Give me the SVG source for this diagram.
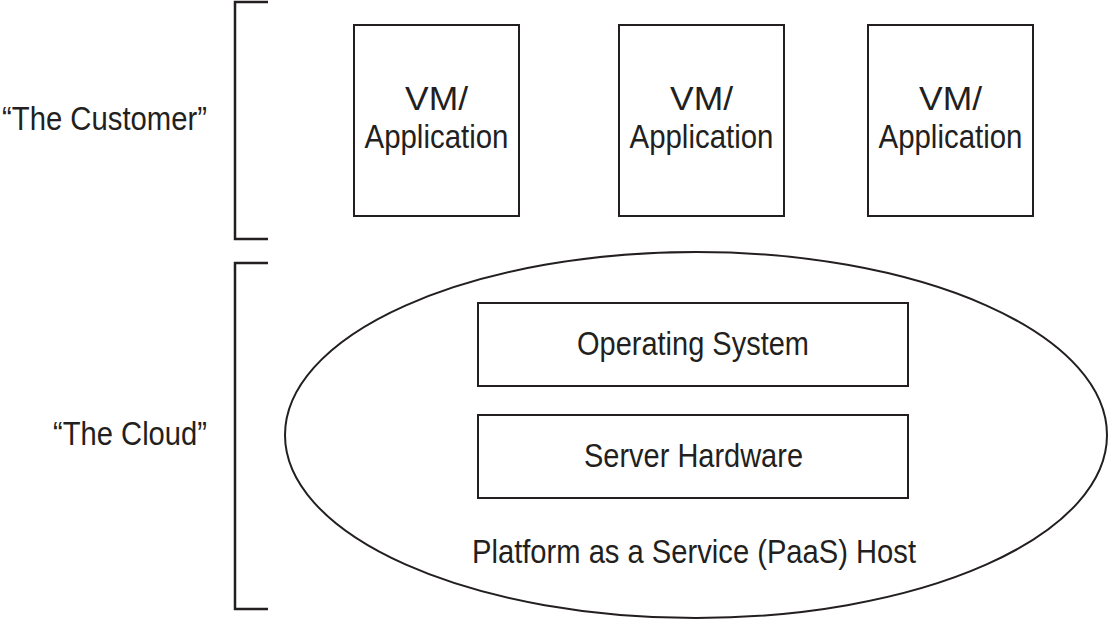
<svg xmlns="http://www.w3.org/2000/svg" width="1108" height="621" viewBox="0 0 1108 621">
<style>
.ln{fill:none;stroke:#231f20;stroke-width:2}
.br{fill:none;stroke:#231f20;stroke-width:2.5}
.t{font-family:"Liberation Sans",Arial,sans-serif;font-size:33px;fill:#231f20;text-anchor:middle}
.tl{font-family:"Liberation Sans",Arial,sans-serif;font-size:33px;fill:#231f20}
</style>
<rect width="1108" height="621" fill="#ffffff"/>
<g id="customer-label">
<path class="br" d="M268,2 H235 V239 H268"/>
<text class="tl" x="2" y="130" textLength="205" lengthAdjust="spacingAndGlyphs">“The Customer”</text>
</g>
<g id="cloud-label">
<path class="br" d="M268,263 H235 V609 H268"/>
<text class="tl" x="53" y="445" textLength="154" lengthAdjust="spacingAndGlyphs">“The Cloud”</text>
</g>
<g id="vm1">
<rect class="ln" x="354" y="25" width="165" height="191"/>
<text class="t" x="436.5" y="110" textLength="63" lengthAdjust="spacingAndGlyphs">VM/</text>
<text class="t" x="436.5" y="148" textLength="144" lengthAdjust="spacingAndGlyphs">Application</text>
</g>
<g id="vm2">
<rect class="ln" x="619" y="25" width="165" height="191"/>
<text class="t" x="701.5" y="110" textLength="63" lengthAdjust="spacingAndGlyphs">VM/</text>
<text class="t" x="701.5" y="148" textLength="144" lengthAdjust="spacingAndGlyphs">Application</text>
</g>
<g id="vm3">
<rect class="ln" x="868" y="25" width="165" height="191"/>
<text class="t" x="950.5" y="110" textLength="63" lengthAdjust="spacingAndGlyphs">VM/</text>
<text class="t" x="950.5" y="148" textLength="144" lengthAdjust="spacingAndGlyphs">Application</text>
</g>
<g id="paas-host">
<ellipse class="ln" cx="696" cy="435" rx="411" ry="183"/>
<text class="t" x="694" y="563" textLength="444" lengthAdjust="spacingAndGlyphs">Platform as a Service (PaaS) Host</text>
</g>
<g id="os">
<rect class="ln" x="478" y="303" width="430" height="83"/>
<text class="t" x="693" y="355" textLength="232" lengthAdjust="spacingAndGlyphs">Operating System</text>
</g>
<g id="hw">
<rect class="ln" x="478" y="415" width="430" height="83"/>
<text class="t" x="693.5" y="467" textLength="219" lengthAdjust="spacingAndGlyphs">Server Hardware</text>
</g>
<g id="connectors"></g>
</svg>
